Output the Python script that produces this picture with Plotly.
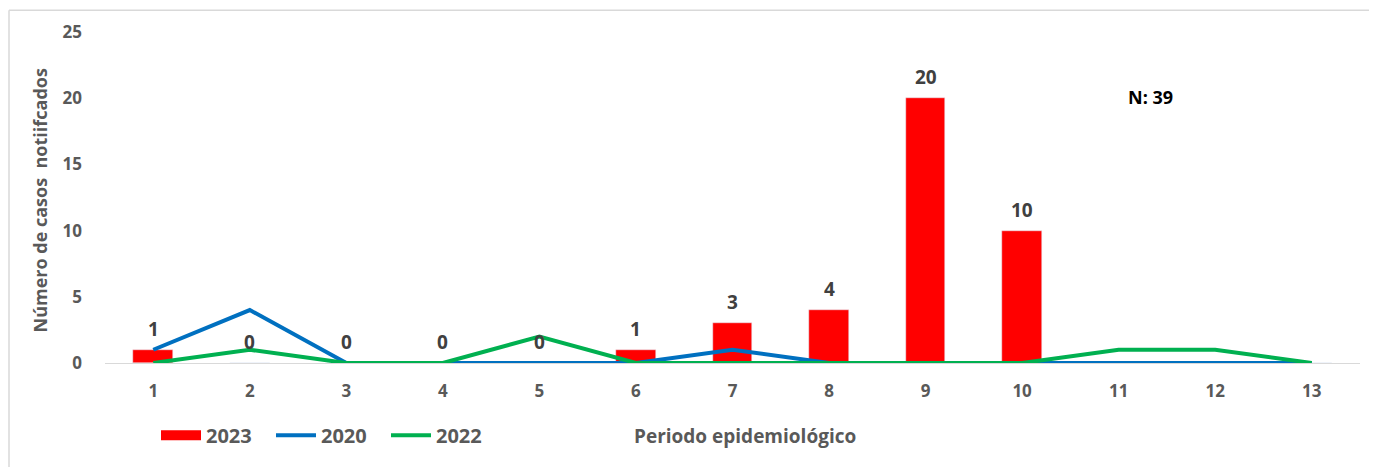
import plotly.graph_objects as go

periods = list(range(1, 14))
casos_2023 = [1, 0, 0, 0, 0, 1, 3, 4, 20, 10, 0, 0, 0]
casos_2020 = [1, 4, 0, 0, 0, 0, 1, 0, 0, 0, 0, 0, 0]
casos_2022 = [0, 1, 0, 0, 2, 0, 0, 0, 0, 0, 1, 1, 0]
labeled_periods = list(range(1, 11))
y_ticks = [0, 5, 10, 15, 20, 25]

FONT = "Open Sans"
GRAY = "#595959"

OFF = 8  # page body margin
W, H = 1377 - OFF, 467 - OFF
L, R, T, B = 105 - OFF, 17, 30 - OFF, 103
pw, ph = W - L - R, H - T - B


def px(x):
    return (x - OFF - L) / pw


def py(y):
    return (H - B - (y - OFF)) / ph


fig = go.Figure()
fig.add_trace(go.Bar(x=periods, y=casos_2023, name="2023", marker_color="#FF0000",
                     width=0.41, showlegend=False, legendgroup="2023"))
# legend key for the bars (wide red rectangle as in the reference)
fig.add_trace(go.Scatter(x=[None], y=[None], name="<b>2023</b>", mode="lines",
                         line=dict(color="#FF0000", width=14), legendgroup="2023"))
fig.add_trace(go.Scatter(x=periods, y=casos_2020, name="<b>2020</b>", mode="lines",
                         line=dict(color="#0070C0", width=4)))
fig.add_trace(go.Scatter(x=periods, y=casos_2022, name="<b>2022</b>", mode="lines",
                         line=dict(color="#00B050", width=4)))

annotations = []
for p in labeled_periods:
    v = casos_2023[p - 1]
    annotations.append(dict(x=p, y=v, xref="x", yref="y", text=f"<b>{v}</b>",
                            showarrow=False, yanchor="middle", xanchor="center",
                            yshift=21,
                            font=dict(family=FONT, size=19, color="#404040")))

annotations.append(dict(x=px(1150), y=py(96), xref="paper", yref="paper",
                        text="<b>N: 39</b>", showarrow=False,
                        xanchor="center", yanchor="middle",
                        font=dict(family=FONT, size=18, color="#000000")))
annotations.append(dict(x=px(745), y=py(438), xref="paper", yref="paper",
                        text="<b>Periodo epidemiológico</b>", showarrow=False,
                        xanchor="center", yanchor="middle",
                        font=dict(family=FONT, size=19, color=GRAY)))
annotations.append(dict(x=px(40), y=py(200), xref="paper", yref="paper",
                        text="<b>Número de casos  notiifcados</b>", showarrow=False,
                        textangle=-90, xanchor="center", yanchor="middle",
                        font=dict(family=FONT, size=18, color=GRAY)))

shapes = [
    dict(type="line", xref="paper", yref="paper", x0=px(9), x1=px(9),
         y0=py(8), y1=py(470), line=dict(color="#D9D9D9", width=1.5)),
    dict(type="line", xref="paper", yref="paper", x0=px(9), x1=px(1380),
         y0=py(8), y1=py(8), line=dict(color="#D9D9D9", width=1.5)),
]

fig.update_layout(
    width=W, height=H,
    margin=dict(l=L, r=R, t=T, b=B),
    plot_bgcolor="white", paper_bgcolor="white",
    font=dict(family=FONT, color=GRAY),
    showlegend=True,
    legend=dict(orientation="h", x=px(156), y=py(437), xanchor="left",
                yanchor="middle", font=dict(family=FONT, size=20, color=GRAY),
                itemwidth=40, entrywidth=60, entrywidthmode="pixels",
                tracegroupgap=0, bgcolor="rgba(0,0,0,0)"),
    annotations=annotations,
    shapes=shapes,
    bargap=0,
)
fig.update_xaxes(range=[0.5, 13.5], tickvals=periods, ticktext=[f"<b>{p}</b>" for p in periods],
                 showgrid=False, zeroline=False, showline=True, linecolor="#D9D9D9",
                 linewidth=1, ticks="", ticklabelstandoff=13,
                 tickfont=dict(family=FONT, size=17, color=GRAY))
fig.update_yaxes(range=[0, 25], tickvals=y_ticks, ticktext=[f"<b>{t}</b>" for t in y_ticks],
                 showgrid=False, zeroline=False, showline=False, ticks="",
                 ticklabelstandoff=22,
                 tickfont=dict(family=FONT, size=17, color=GRAY))

fig.write_html("out.html")
